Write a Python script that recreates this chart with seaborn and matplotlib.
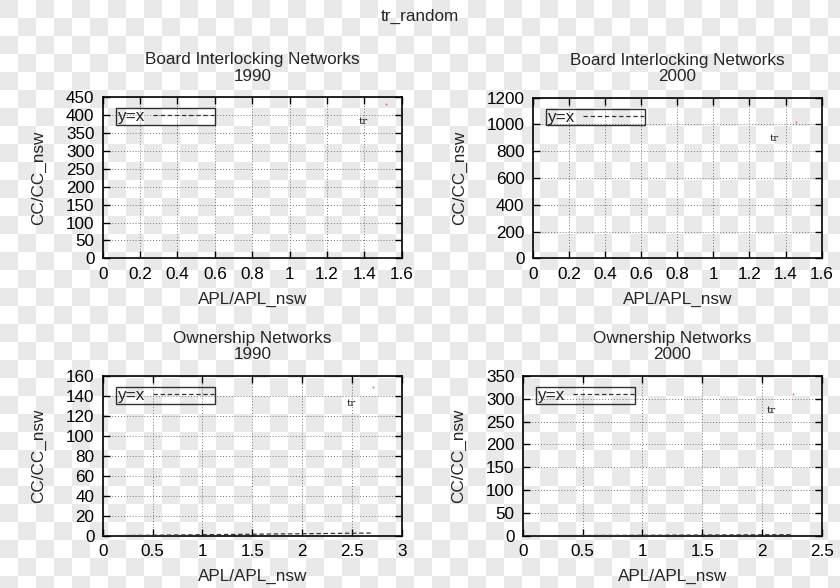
import numpy as np
import pandas as pd
import matplotlib
matplotlib.use("Agg")
import matplotlib.pyplot as plt
import seaborn as sns

# data
titles = ["Board Interlocking Networks\n1990", "Board Interlocking Networks\n2000",
          "Ownership Networks\n1990", "Ownership Networks\n2000"]
apl_ratio = [1.514, 1.458, 2.715, 2.263]
cc_ratio = [430, 1016, 148.7, 310]
point_labels = ["tr", "tr", "tr", "tr"]
x_max = [1.6, 1.6, 3.0, 2.5]
y_max = [450, 1200, 160, 350]
x_step = [0.2, 0.2, 0.5, 0.5]
y_step = [50, 200, 20, 50]

sns.set_theme(style="ticks")
plt.rcParams["font.family"] = ["Liberation Sans", "DejaVu Sans"]

fig = plt.figure(figsize=(8.4, 5.88), dpi=100)

# transparent-looking checkerboard behind everything
tile = 18
yy, xx = np.mgrid[0:588, 0:840]
checks = ((xx // tile + yy // tile) % 2 == 0)
bg = np.where(checks, 0.915, 1.0)
bg = np.dstack([bg, bg, bg])
fig.figimage(bg[::-1], xo=0, yo=0, origin="lower", zorder=-10)
fig.patch.set_alpha(0)

# axes boxes [left, bottom, width, height]
boxes = [[0.1223, 0.5607, 0.356, 0.2738],
         [0.6342, 0.5607, 0.344, 0.2732],
         [0.1223, 0.0889, 0.356, 0.2716],
         [0.6223, 0.0889, 0.356, 0.2716]]

fs = 12.3

for i in range(4):
    ax = fig.add_axes(boxes[i])
    ax.set_facecolor("none")

    line = pd.DataFrame({"x": [0, apl_ratio[i]], "y": [0, apl_ratio[i]]})
    sns.lineplot(data=line, x="x", y="y", ax=ax, color="#333333", lw=0.9,
                 dashes=False, label="y=x", zorder=3)
    ax.lines[-1].set_dashes([3.5, 2.2])

    pts = pd.DataFrame({"x": [apl_ratio[i]], "y": [cc_ratio[i]]})
    sns.scatterplot(data=pts, x="x", y="y", ax=ax, color="#e07070", s=2,
                    linewidth=0, zorder=4, legend=False)
    ax.annotate(point_labels[i], (apl_ratio[i], cc_ratio[i]), xytext=(-16, -12),
                textcoords="offset points", ha="center", va="center",
                fontsize=7.5, family="DejaVu Serif", color="#222222")

    ax.set_xlim(0, x_max[i])
    ax.set_ylim(0, y_max[i])
    ax.set_xticks(np.arange(0, x_max[i] + 1e-9, x_step[i]))
    ax.set_yticks(np.arange(0, y_max[i] + 1e-9, y_step[i]))
    ax.set_xticklabels([("%g" % v) for v in ax.get_xticks()])
    ax.set_yticklabels([("%g" % v) for v in ax.get_yticks()])
    ax.tick_params(direction="in", length=5, width=1, top=True, right=True,
                   labelsize=fs, pad=6, colors="black")
    ax.grid(True, linestyle=(0, (1, 2)), color="#777777", lw=0.7)
    for s in ax.spines.values():
        s.set_linewidth(1.2)
        s.set_color("black")

    ax.set_title(titles[i], fontsize=fs, pad=12, linespacing=1.1)
    ax.set_xlabel("APL/APL_nsw", fontsize=fs, labelpad=7)
    ax.set_ylabel("CC/CC_nsw", fontsize=fs, labelpad=14)

    leg = ax.legend(loc="upper left", markerfirst=False, fontsize=fs,
                    handlelength=3.6, handletextpad=0.5, borderpad=0.05,
                    borderaxespad=0.6, fancybox=False, frameon=True,
                    bbox_to_anchor=(0.01, 0.995))
    leg.get_frame().set_edgecolor("black")
    leg.get_frame().set_linewidth(1.0)
    leg.get_frame().set_facecolor("none")

fig.suptitle("tr_random", y=0.985, fontsize=fs)

fig.savefig("out.png", dpi=100)
